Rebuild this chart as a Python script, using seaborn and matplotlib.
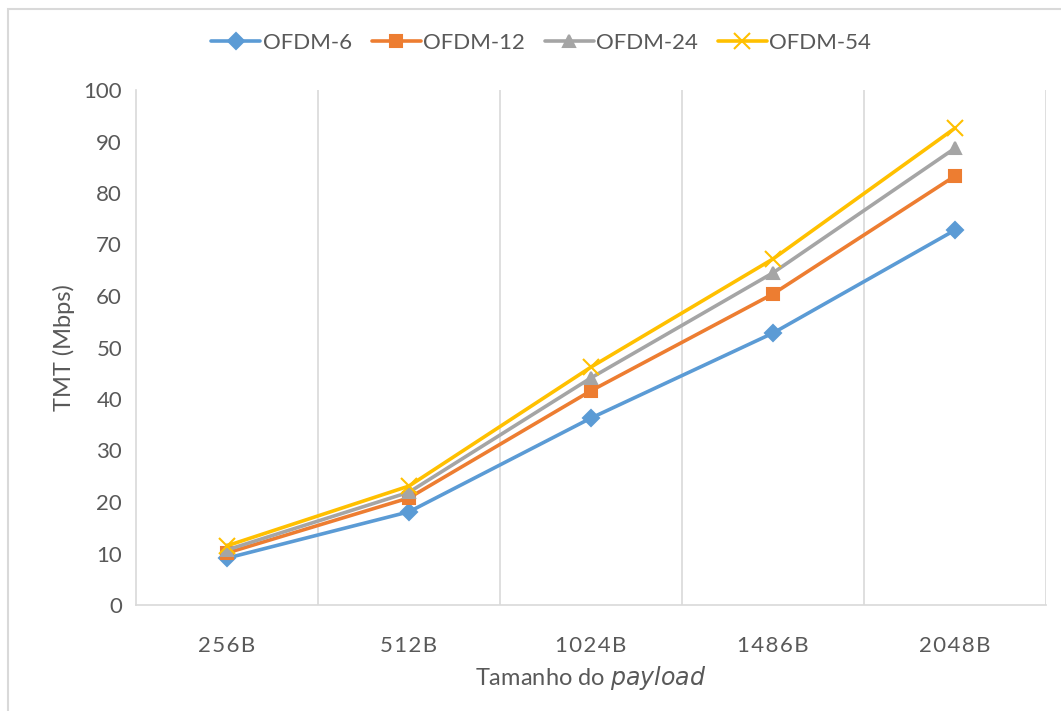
import matplotlib
matplotlib.use("Agg")
import matplotlib.pyplot as plt
from matplotlib.patches import Rectangle
import seaborn as sns
import pandas as pd

categories = ["256B", "512B", "1024B", "1486B", "2048B"]
ofdm6 = [9.1, 18.1, 36.3, 52.8, 72.8]
ofdm12 = [10.1, 20.8, 41.6, 60.4, 83.3]
ofdm24 = [10.7, 21.9, 44.1, 64.5, 88.7]
ofdm54 = [11.5, 23.1, 46.2, 67.2, 92.6]
series_names = ["OFDM-6", "OFDM-12", "OFDM-24", "OFDM-54"]
yticks = [0, 10, 20, 30, 40, 50, 60, 70, 80, 90, 100]

sns.set_theme(style="white")
plt.rcParams["font.family"] = ["Lato", "DejaVu Sans"]
text_color = "#595959"

fig = plt.figure(figsize=(10.61, 7.11), dpi=100)
ax = fig.add_axes([136 / 1061, 106 / 711, 910 / 1061, 515 / 711])

colors = ["#5B9BD5", "#ED7D31", "#A5A5A5", "#FFC000"]
markers = ["D", "s", "^", "x"]
msizes = [8, 9, 9, 11]
for name, vals, col, mk, ms in zip(series_names, [ofdm6, ofdm12, ofdm24, ofdm54], colors, markers, msizes):
    d = pd.DataFrame({"Payload": categories, "TMT": vals})
    sns.lineplot(data=d, x="Payload", y="TMT", color=col, marker=mk, markersize=ms,
                 markeredgecolor=col, markeredgewidth=1.5,
                 linewidth=2.6, sort=False, label=name, ax=ax)

ax.set_xlim(-0.5, 4.5)
ax.set_ylim(0, 100)
ax.set_yticks(yticks)
ax.set_xticks(range(len(categories)))
ax.set_xticklabels(["\u200a".join(c) for c in categories])
ax.set_xticks([0.5, 1.5, 2.5, 3.5, 4.5], minor=True)
ax.xaxis.grid(True, which="minor", color="#D9D9D9", linewidth=1.2)
ax.yaxis.grid(False)
for s in ["top", "right"]:
    ax.spines[s].set_visible(False)
ax.spines["left"].set_color("#D9D9D9")
ax.spines["bottom"].set_color("#D9D9D9")
ax.spines["left"].set_linewidth(1.2)
ax.spines["bottom"].set_linewidth(1.2)
ax.tick_params(axis="both", which="both", length=0, colors=text_color, labelsize=16)
ax.tick_params(axis="x", pad=22)
ax.tick_params(axis="y", pad=10)

ax.set_xlabel("Tamanho do $\\it{payload}$", fontsize=17, color=text_color, labelpad=6)
ax.set_ylabel("TMT (Mbps)", fontsize=17, color=text_color, labelpad=6)

handles, labels = ax.get_legend_handles_labels()
leg = ax.legend(handles, labels, loc="center", bbox_to_anchor=(541 / 1061, 668 / 711),
                bbox_transform=fig.transFigure, ncol=4, frameon=False, fontsize=16,
                handlelength=2.2, handletextpad=0.1, columnspacing=0.9)
for t in leg.get_texts():
    t.set_color(text_color)

fig.patches.append(Rectangle((8 / 1061, -0.1), 1.2, (711 - 9) / 711 + 0.1,
                             transform=fig.transFigure, fill=False,
                             edgecolor="#D9D9D9", linewidth=1.5))

fig.savefig("out.png", dpi=100)
